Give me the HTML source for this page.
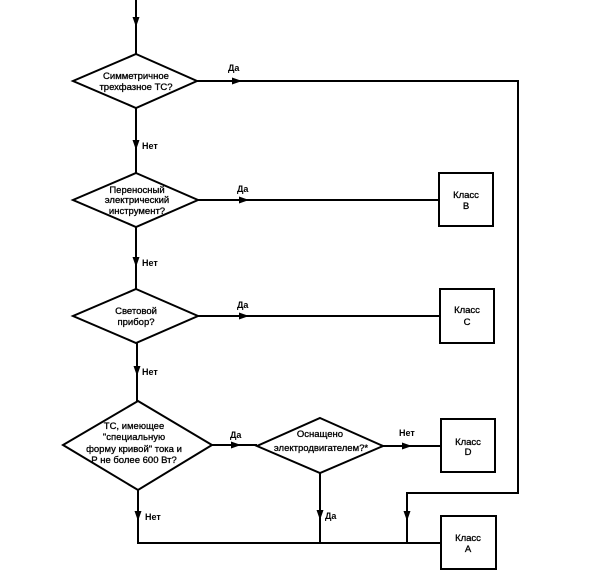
<!DOCTYPE html>
<html><head><meta charset="utf-8"><style>
html,body{margin:0;padding:0;background:#fff;}
svg{display:block;}
text{font-family:"Liberation Sans",Arial,sans-serif;font-size:9.5px;fill:#000;stroke:#000;stroke-width:0.3;}
.c{text-anchor:middle;}
.l{font-weight:bold;stroke-width:0;font-size:9px;}
</style></head><body>
<svg width="611" height="580" viewBox="0 0 611 580" xmlns="http://www.w3.org/2000/svg">
<g fill="none" stroke="#000" stroke-width="2">
<line x1="136" y1="0" x2="136" y2="54"/>
<polygon points="136,54 197,81 136,108 73,81"/>
<line x1="136" y1="108" x2="136" y2="173"/>
<polygon points="136,173 198,200 136,227 73,200"/>
<line x1="136" y1="227" x2="136" y2="289"/>
<polygon points="136,289 198,316 136,343 73,316"/>
<line x1="137" y1="343" x2="137" y2="401"/>
<polygon points="138,401 212,445 138,490 63,445"/>
<line x1="138" y1="490" x2="138" y2="543"/>
<line x1="137" y1="543" x2="441" y2="543"/>
<line x1="212" y1="445" x2="257" y2="445"/>
<polygon points="320,418 383,446 320,473 257,446"/>
<line x1="383" y1="446" x2="441" y2="446"/>
<line x1="320" y1="473" x2="320" y2="543"/>
<polyline points="197,81 518,81 518,493 407,493 407,543"/>
<line x1="198" y1="200" x2="439" y2="200"/>
<line x1="198" y1="316" x2="440" y2="316"/>
<rect x="439" y="173" width="54" height="53"/>
<rect x="440" y="289" width="54" height="54"/>
<rect x="441" y="419" width="54" height="53"/>
<rect x="441" y="516" width="55" height="53"/>
</g>
<g fill="#000">
<polygon points="132.5,17 139.5,17 136,27"/>
<polygon points="132.5,140 139.5,140 136,150"/>
<polygon points="132.5,257 139.5,257 136,267"/>
<polygon points="133.5,366 140.5,366 137,376"/>
<polygon points="134.5,511 141.5,511 138,521"/>
<polygon points="316.5,510 323.5,510 320,520"/>
<polygon points="403.5,511 410.5,511 407,521"/>
<polygon points="232,77.5 232,84.5 242,81"/>
<polygon points="239,196.5 239,203.5 249,200"/>
<polygon points="239,312.5 239,319.5 249,316"/>
<polygon points="231,441.5 231,448.5 241,445"/>
<polygon points="402,442.5 402,449.5 412,446"/>
</g>
<text class="c" x="136" y="79">Симметричное</text>
<text class="c" x="136" y="90">трехфазное ТС?</text>
<text class="c" x="137" y="193">Переносный</text>
<text class="c" x="137" y="203">электрический</text>
<text class="c" x="137" y="214">инструмент?</text>
<text class="c" x="136" y="314">Световой</text>
<text class="c" x="136" y="325">прибор?</text>
<text class="c" x="134" y="429">ТС, имеющее</text>
<text class="c" x="134" y="440">"специальную</text>
<text class="c" x="134" y="452">форму кривой" тока и</text>
<text class="c" x="134" y="463">Р не более 600 Вт?</text>
<text class="c" x="320" y="437">Оснащено</text>
<text class="c" x="321" y="451">электродвигателем?*</text>
<text class="c" x="466" y="198">Класс</text>
<text class="c" x="466" y="209">B</text>
<text class="c" x="467" y="313">Класс</text>
<text class="c" x="467" y="325">C</text>
<text class="c" x="468" y="445">Класс</text>
<text class="c" x="468" y="455">D</text>
<text class="c" x="468" y="541">Класс</text>
<text class="c" x="468" y="552">A</text>
<text class="l" x="228" y="71">Да</text>
<text class="l" x="237" y="192">Да</text>
<text class="l" x="237" y="308">Да</text>
<text class="l" x="230" y="438">Да</text>
<text class="l" x="399" y="436">Нет</text>
<text class="l" x="142" y="149">Нет</text>
<text class="l" x="142" y="266">Нет</text>
<text class="l" x="142" y="375">Нет</text>
<text class="l" x="145" y="520">Нет</text>
<text class="l" x="325" y="519">Да</text>
</svg>
</body></html>
